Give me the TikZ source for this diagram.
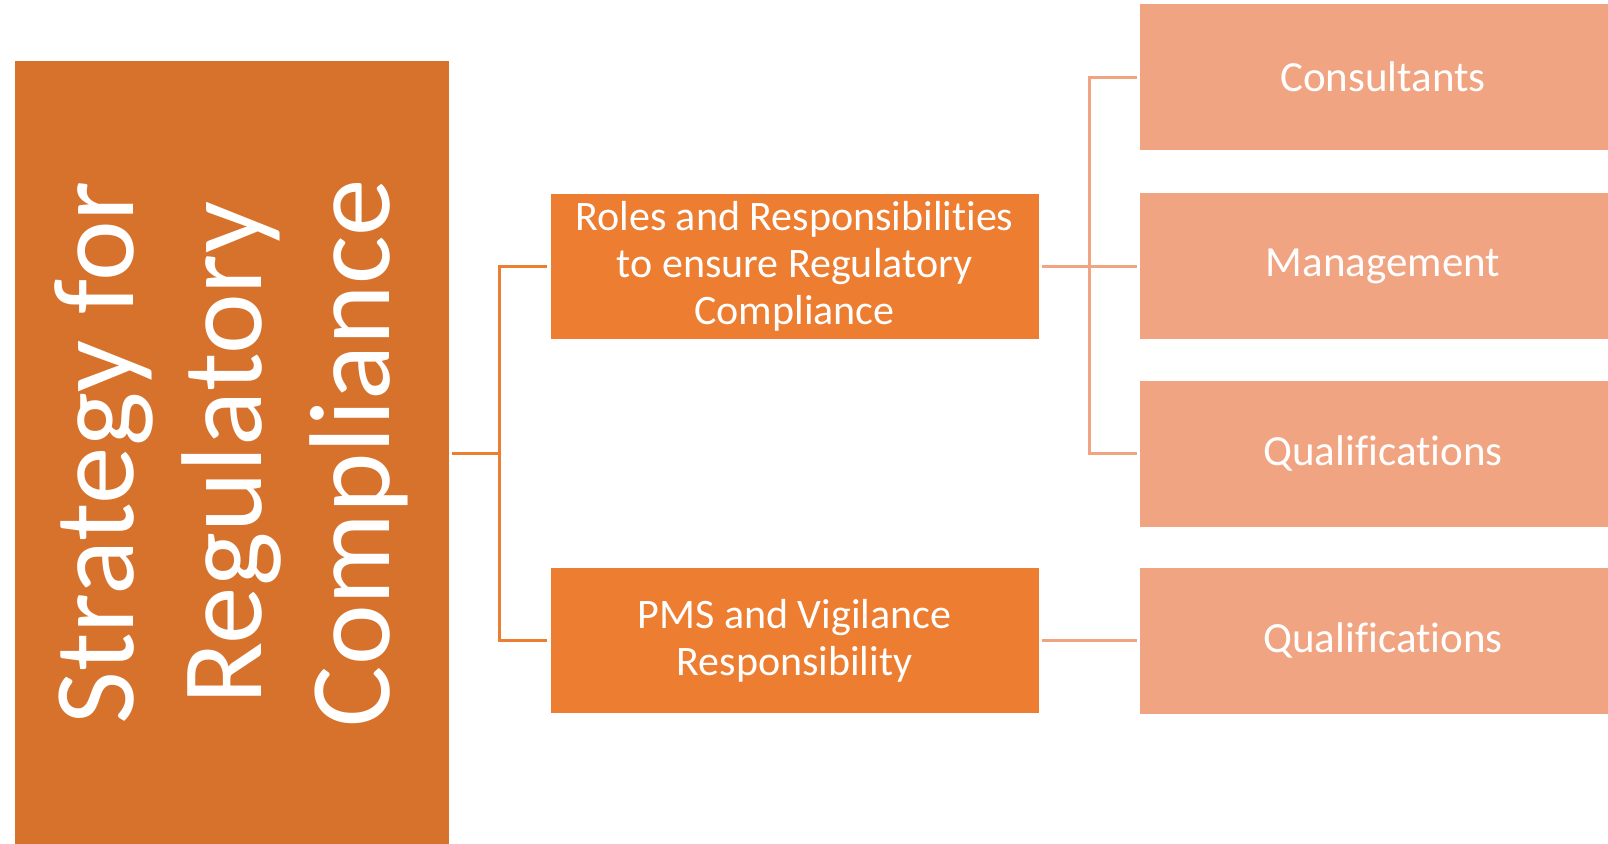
\documentclass[tikz,border=0pt]{standalone}
\usepackage{fontspec}
\setmainfont{Carlito}[Ligatures={NoCommon,NoContextual}]
\definecolor{rootfill}{HTML}{D7722D}
\definecolor{midfill}{HTML}{ED7D31}
\definecolor{leaffill}{HTML}{F1A481}
\begin{document}
\begin{tikzpicture}[x=1pt,y=-1pt,
  box/.style={rectangle, inner sep=0pt, text=white, align=center, draw=white, line width=0.6pt},
  rootbox/.style={box, fill=rootfill, minimum width=435pt, minimum height=786pt},
  roottext/.style={inner sep=0pt, text=white, align=center, font=\fontsize{115}{128}\selectfont},
  midbox/.style={box, fill=midfill, minimum width=489pt, minimum height=146pt, font=\fontsize{42}{47}\selectfont},
  leafbox/.style={box, fill=leaffill, minimum width=488pt, minimum height=147pt, font=\fontsize{43}{48}\selectfont},
  rootlink/.style={draw=midfill, line width=3pt, line join=miter},
  leaflink/.style={draw=leaffill, line width=3pt, line join=miter}
]
\useasboundingbox (0,0) rectangle (1608,843);

% root
\node[rootbox] (root) at (231.5,453) {};
\node[roottext, rotate=90] (roottext) at (root.center) {Strategy for\\Regulatory\\Compliance};

% second level
\node[midbox] (roles) at (794.5,266) {Roles and Responsibilities\\to ensure Regulatory\\Compliance};
\node[midbox] (pms) at (794.5,640.5) {PMS and Vigilance\\Responsibility};

% third level
\node[leafbox] (cons) at (1383,77) {Consultants};
\node[leafbox] (mgmt) at (1383,266) {Management};
\node[leafbox] (qualA) at (1383,453.5) {Qualifications};
\node[leafbox] (qualB) at (1383,640.5) {Qualifications};

% connectors
\coordinate (trunkA) at (499,453);
\coordinate (trunkB) at (1089,266);
\draw[rootlink] ([xshift=3pt]root.east) -- (trunkA);
\draw[rootlink] ([xshift=-3pt]roles.west) -| (trunkA) |- ([xshift=-3pt]pms.west);
\draw[leaflink] ([xshift=3pt]roles.east) -- ([xshift=-2pt]mgmt.west);
\draw[leaflink] ([xshift=-2pt]cons.west) -| (trunkB) |- ([xshift=-2pt]qualA.west);
\draw[leaflink] ([xshift=3pt]pms.east) -- ([xshift=-2pt]qualB.west);
\end{tikzpicture}
\end{document}
